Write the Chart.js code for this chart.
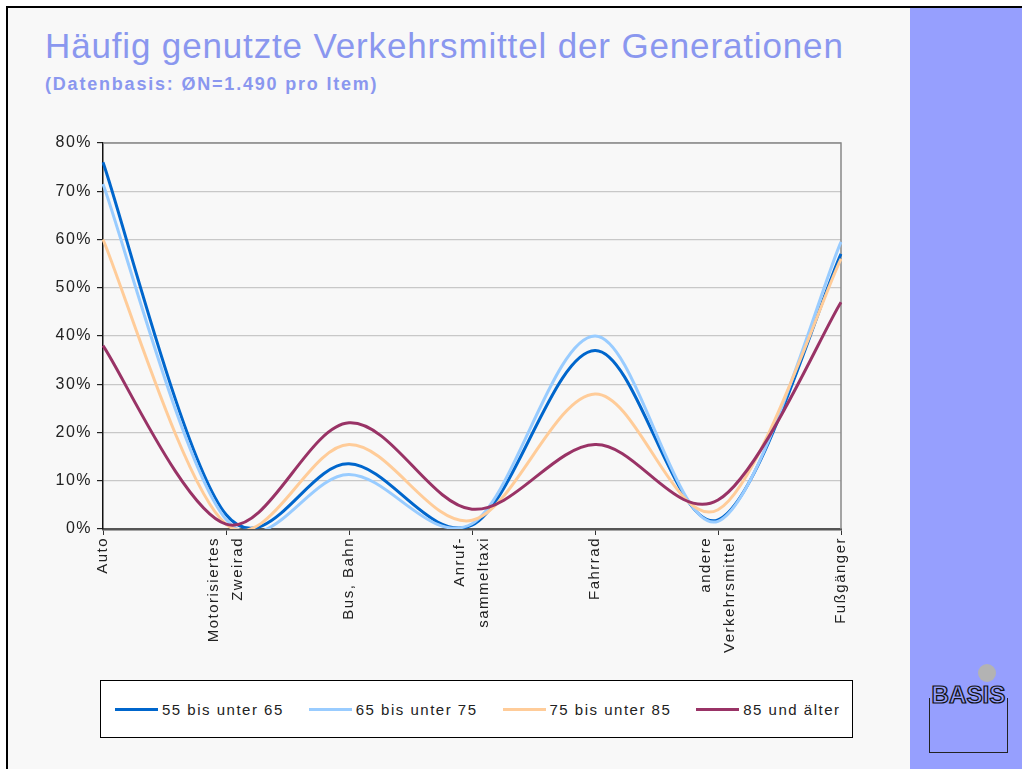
<!DOCTYPE html>
<html>
<head>
<meta charset="utf-8">
<script src="https://cdn.jsdelivr.net/npm/chart.js@4.4.0/dist/chart.umd.min.js"></script>
<style>
  html, body { margin: 0; padding: 0; background: #fff; }
  body { width: 1022px; height: 769px; position: relative; overflow: hidden;
         font-family: "Liberation Sans", Arial, Helvetica, sans-serif; }
  #slide { position: absolute; left: 6px; top: 6px; width: 1016px; height: 763px;
           background: #f8f8f8; border-top: 2px solid #000; border-left: 2px solid #000; box-sizing: border-box; }
  #panel { position: absolute; left: 910px; top: 8px; width: 112px; height: 761px; background: #969ffe; }
  #title { position: absolute; left: 45px; top: 26px; font-size: 35px; letter-spacing: 0.85px; color: #8a97ef; white-space: nowrap; }
  #subtitle { position: absolute; left: 45px; top: 74px; font-size: 18px; font-weight: bold; letter-spacing: 1.8px; color: #8a97ef; white-space: nowrap; }
  #chartBox { position: absolute; left: 0; top: 0; width: 905px; height: 670px; }
  #legend { position: absolute; left: 100px; top: 680px; width: 753px; height: 58px; box-sizing: border-box;
            border: 1px solid #000; background: #fff; display: flex; align-items: center; padding-left: 14px;
            white-space: nowrap; overflow: hidden; }
  .item { display: flex; align-items: center; flex-shrink: 0; margin-right: 25px; font-size: 15px; letter-spacing: 1.5px; color: #222; }
  .swatch { width: 43px; height: 3px; margin-right: 4px; flex-shrink: 0; }
  #logo { position: absolute; left: 929px; top: 698px; width: 79px; height: 55px; box-sizing: border-box;
          border: 1.5px solid #222; border-top: none; }
  #logoText { position: absolute; left: 924px; top: 682px; width: 89px; text-align: center; font-size: 23px; font-weight: bold;
              color: #969ffe; -webkit-text-stroke: 1.2px #111; transform: scaleX(1.05); }
  #dot { position: absolute; left: 978px; top: 664px; width: 18px; height: 18px; border-radius: 50%; background: #b3b3b3; }
</style>
</head>
<body>
<div id="slide"></div>
<div id="panel"></div>
<div id="title">Häufig genutzte Verkehrsmittel der Generationen</div>
<div id="subtitle">(Datenbasis: ØN=1.490 pro Item)</div>
<div id="chartBox"><canvas id="chart" width="905" height="670"></canvas></div>
<div id="legend"></div>
<div id="dot"></div>
<div id="logo"></div>
<div id="logoText">BASIS</div>
<script>
const categories = [
    'Auto',
    ['Motorisiertes', 'Zweirad'],
    'Bus, Bahn',
    ['Anruf-', 'sammeltaxi'],
    'Fahrrad',
    ['andere', 'Verkehrsmittel'],
    'Fußgänger'
];

const seriesNames = ['55 bis unter 65', '65 bis unter 75', '75 bis unter 85', '85 und älter'];
const seriesColors = ['#0066cc', '#99ccff', '#ffcc99', '#993366'];

const age55to65 = [76, 3, 13.5, 0.8, 37, 1.9, 57];
const age65to75 = [71.5, 2, 11.3, 1.1, 40, 1.6, 59.5];
const age75to85 = [60, 1, 17.5, 1.8, 28, 4, 56];
const age85plus = [38, 1, 22, 4.1, 17.5, 6, 47];

const yTicks = [0, 10, 20, 30, 40, 50, 60, 70, 80];

const seriesValues = [age55to65, age65to75, age75to85, age85plus];

const LABEL_LINE = 24;

// spaced-out lettering like the original slide
const letterSpacing = {
    id: 'letterSpacing',
    beforeUpdate(chart) { chart.ctx.letterSpacing = '1.5px'; },
    beforeDraw(chart) { chart.ctx.letterSpacing = '1.5px'; }
};

// grey frame on top/right of the plot area
const plotFrame = {
    id: 'plotFrame',
    beforeDatasetsDraw(chart) {
        const a = chart.chartArea;
        const ctx = chart.ctx;
        ctx.save();
        ctx.strokeStyle = '#888';
        ctx.lineWidth = 1.5;
        ctx.beginPath();
        ctx.moveTo(a.left, a.top);
        ctx.lineTo(a.right, a.top);
        ctx.lineTo(a.right, a.bottom);
        ctx.stroke();
        ctx.restore();
    }
};

// Excel style smoothing (uniform Catmull-Rom) instead of chart.js distance weighted spline
const excelSmooth = {
    id: 'excelSmooth',
    beforeDatasetDraw(chart, args) {
        const line = args.meta.dataset;
        line.updateControlPoints(chart.chartArea, 'x');
        const pts = args.meta.data;
        const k = 1 / 6;
        for (let i = 0; i < pts.length; i++) {
            const p = pts[i];
            const prev = pts[i - 1] || p;
            const next = pts[i + 1] || p;
            const dx = next.x - prev.x;
            const dy = next.y - prev.y;
            p.cp1x = p.x - dx * k;
            p.cp1y = p.y - dy * k;
            p.cp2x = p.x + dx * k;
            p.cp2y = p.y + dy * k;
        }
    },
    // center multi-line rotated category labels on their tick
    beforeDraw(chart) {
        const xs = chart.scales.x;
        const items = xs.getLabelItems();
        items.forEach(item => {
            if (Array.isArray(item.label) && !item._centered) {
                item.options.translation[0] -= (item.label.length - 1) * LABEL_LINE / 2;
                item._centered = true;
            }
        });
    }
};

const ctx = document.getElementById('chart').getContext('2d');
const chart = new Chart(ctx, {
    type: 'line',
    data: {
        labels: categories,
        datasets: seriesNames.map((name, i) => ({
            label: name,
            data: seriesValues[i],
            borderColor: seriesColors[i],
            backgroundColor: seriesColors[i],
            borderWidth: 3,
            pointRadius: 0,
            tension: 0.4,
            fill: false
        })).reverse()
    },
    options: {
        responsive: false,
        animation: false,
        layout: { padding: { left: 40, top: 143, right: 64, bottom: 0 } },
        elements: { line: { capBezierPoints: false } },
        scales: {
            x: {
                afterFit(scale) { scale.height = 141; },
                grid: { drawOnChartArea: false, drawTicks: true, tickLength: 6, tickColor: '#333', tickWidth: 1 },
                border: { color: '#555', width: 2.5 },
                ticks: {
                    minRotation: 90,
                    maxRotation: 90,
                    autoSkip: false,
                    padding: 2,
                    color: '#222',
                    font: { family: '"Liberation Sans", Arial, sans-serif', size: 15, lineHeight: LABEL_LINE / 15 }
                }
            },
            y: {
                min: 0,
                max: 80,
                afterFit(scale) { scale.width = 63; },
                afterBuildTicks(scale) { scale.ticks = yTicks.map(v => ({ value: v })); },
                grid: { color: '#c8c8c8', lineWidth: 1.2, tickLength: 6, tickColor: '#222' },
                border: { color: '#111', width: 1.5 },
                ticks: {
                    padding: 5,
                    color: '#222',
                    font: { family: '"Liberation Sans", Arial, sans-serif', size: 16 },
                    callback: v => v + '%'
                }
            }
        },
        plugins: {
            legend: { display: false },
            tooltip: { enabled: false }
        }
    },
    plugins: [letterSpacing, plotFrame, excelSmooth]
});

// legend in a framed box below the chart, built from the series
const legendEl = document.getElementById('legend');
seriesNames.forEach((name, i) => {
    const item = document.createElement('div');
    item.className = 'item';
    const sw = document.createElement('div');
    sw.className = 'swatch';
    sw.style.background = seriesColors[i];
    const label = document.createElement('span');
    label.textContent = name;
    item.appendChild(sw);
    item.appendChild(label);
    legendEl.appendChild(item);
});
</script>
</body>
</html>
